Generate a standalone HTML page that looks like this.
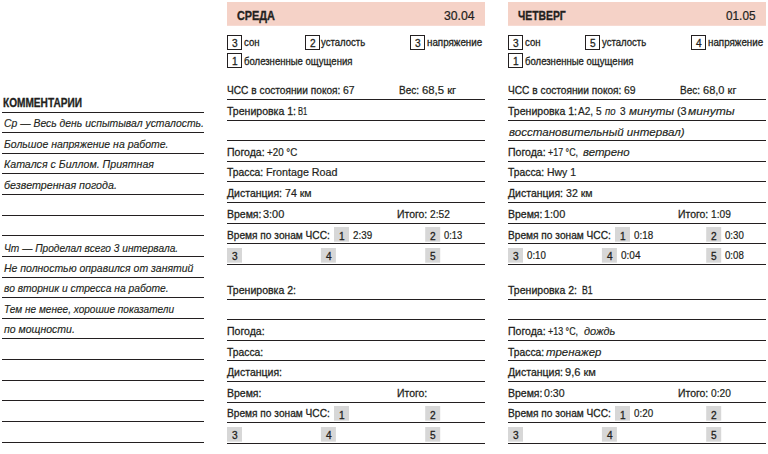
<!DOCTYPE html>
<html lang="ru"><head><meta charset="utf-8"><title>Дневник тренировок</title>
<style>
html,body{margin:0;padding:0;background:#fff}
#p{position:relative;width:768px;height:454px;overflow:hidden;background:#fff;color:#231f20;font-family:'Liberation Sans', sans-serif}
#p span{position:absolute;white-space:pre;transform-origin:0 0;line-height:16px}
.lab,.cb{-webkit-text-stroke:0.3px currentColor}
.val,.dt{-webkit-text-stroke:0.22px currentColor}
.num,.numc{-webkit-text-stroke:0.3px currentColor}
.ita{-webkit-text-stroke:0.15px currentColor}
.hd{-webkit-text-stroke:0.35px currentColor}
.kom{-webkit-text-stroke:0.3px currentColor}
.lab{font-size:11.6px;font-weight:400;font-style:normal}
.val{font-size:11.6px;font-weight:400;font-style:normal}
.ita{font-size:11.8px;font-weight:400;font-style:italic}
.hd{font-size:13.5px;font-weight:700;font-style:normal}
.dt{font-size:12.4px;font-weight:400;font-style:normal}
.kom{font-size:12.0px;font-weight:700;font-style:normal}
.cb{font-size:10.6px;font-weight:400;font-style:normal}
.num{font-size:11.0px;font-weight:400;font-style:normal}
.numc{font-size:11.0px;font-weight:400;font-style:normal}
</style></head><body>
<div id="p">
<svg width="768" height="454" viewBox="0 0 768 454" style="position:absolute;left:0;top:0">
<rect x="227.0" y="2.0" width="258.0" height="23.8" fill="#f5d2c7"/>
<rect x="334.0" y="227.0" width="15.0" height="14.7" fill="#d7d7d7"/>
<rect x="425.2" y="227.0" width="15.0" height="14.7" fill="#d7d7d7"/>
<rect x="227.0" y="248.0" width="15.0" height="14.7" fill="#d7d7d7"/>
<rect x="320.9" y="248.0" width="15.0" height="14.7" fill="#d7d7d7"/>
<rect x="425.2" y="248.0" width="15.0" height="14.7" fill="#d7d7d7"/>
<rect x="334.0" y="406.0" width="15.0" height="14.7" fill="#d7d7d7"/>
<rect x="425.2" y="406.0" width="15.0" height="14.7" fill="#d7d7d7"/>
<rect x="227.0" y="427.0" width="15.0" height="14.7" fill="#d7d7d7"/>
<rect x="320.9" y="427.0" width="15.0" height="14.7" fill="#d7d7d7"/>
<rect x="425.2" y="427.0" width="15.0" height="14.7" fill="#d7d7d7"/>
<rect x="508.0" y="2.0" width="258.0" height="23.8" fill="#f5d2c7"/>
<rect x="615.0" y="227.0" width="15.0" height="14.7" fill="#d7d7d7"/>
<rect x="706.2" y="227.0" width="15.0" height="14.7" fill="#d7d7d7"/>
<rect x="508.0" y="248.0" width="15.0" height="14.7" fill="#d7d7d7"/>
<rect x="601.9" y="248.0" width="15.0" height="14.7" fill="#d7d7d7"/>
<rect x="706.2" y="248.0" width="15.0" height="14.7" fill="#d7d7d7"/>
<rect x="615.0" y="406.0" width="15.0" height="14.7" fill="#d7d7d7"/>
<rect x="706.2" y="406.0" width="15.0" height="14.7" fill="#d7d7d7"/>
<rect x="508.0" y="427.0" width="15.0" height="14.7" fill="#d7d7d7"/>
<rect x="601.9" y="427.0" width="15.0" height="14.7" fill="#d7d7d7"/>
<rect x="706.2" y="427.0" width="15.0" height="14.7" fill="#d7d7d7"/>
<rect x="227.5" y="35.5" width="14.0" height="14.0" fill="none" stroke="#231f20" stroke-width="1"/>
<rect x="305.5" y="35.5" width="14.0" height="14.0" fill="none" stroke="#231f20" stroke-width="1"/>
<rect x="410.5" y="35.5" width="14.0" height="14.0" fill="none" stroke="#231f20" stroke-width="1"/>
<rect x="227.5" y="53.5" width="14.0" height="14.0" fill="none" stroke="#231f20" stroke-width="1"/>
<rect x="508.5" y="35.5" width="14.0" height="14.0" fill="none" stroke="#231f20" stroke-width="1"/>
<rect x="585.5" y="35.5" width="14.0" height="14.0" fill="none" stroke="#231f20" stroke-width="1"/>
<rect x="691.5" y="35.5" width="14.0" height="14.0" fill="none" stroke="#231f20" stroke-width="1"/>
<rect x="508.5" y="53.5" width="14.0" height="14.0" fill="none" stroke="#231f20" stroke-width="1"/>
<path d="M2.0 112.50H204.0M2.0 132.50H204.0M2.0 153.50H204.0M2.0 173.50H204.0M2.0 194.50H204.0M2.0 215.50H204.0M2.0 235.50H204.0M2.0 256.50H204.0M2.0 277.50H204.0M2.0 297.50H204.0M2.0 318.50H204.0M2.0 338.50H204.0M2.0 359.50H204.0M2.0 380.50H204.0M2.0 400.50H204.0M2.0 421.50H204.0M2.0 442.50H204.0M227.0 99.50H485.0M227.0 120.50H485.0M227.0 140.50H485.0M227.0 161.50H485.0M227.0 181.50H485.0M227.0 202.50H485.0M227.0 223.50H485.0M227.0 243.50H485.0M227.0 264.50H485.0M227.0 299.50H485.0M227.0 319.50H485.0M227.0 340.50H485.0M227.0 360.50H485.0M227.0 381.50H485.0M227.0 402.50H485.0M227.0 422.50H485.0M227.0 443.50H485.0M508.0 99.50H766.0M508.0 120.50H766.0M508.0 140.50H766.0M508.0 161.50H766.0M508.0 181.50H766.0M508.0 202.50H766.0M508.0 223.50H766.0M508.0 243.50H766.0M508.0 264.50H766.0M508.0 299.50H766.0M508.0 319.50H766.0M508.0 340.50H766.0M508.0 360.50H766.0M508.0 381.50H766.0M508.0 402.50H766.0M508.0 422.50H766.0M508.0 443.50H766.0" fill="none" stroke="#231f20" stroke-width="1.15"/>
</svg>
<span class="kom" style="left:3.2px;top:95px;transform:scaleX(0.842)">КОММЕНТАРИИ</span>
<span class="ita" style="left:3.6px;top:115px;transform:scaleX(0.881)">Ср — Весь день испытывал усталость.</span>
<span class="ita" style="left:3.6px;top:136px;transform:scaleX(0.889)">Большое напряжение на работе.</span>
<span class="ita" style="left:3.6px;top:156px;transform:scaleX(0.899)">Катался с Биллом. Приятная</span>
<span class="ita" style="left:3.6px;top:177px;transform:scaleX(0.907)">безветренная погода.</span>
<span class="ita" style="left:3.6px;top:240px;transform:scaleX(0.862)">Чт — Проделал всего 3 интервала.</span>
<span class="ita" style="left:3.6px;top:260px;transform:scaleX(0.888)">Не полностью оправился от занятий</span>
<span class="ita" style="left:3.6px;top:280px;transform:scaleX(0.872)">во вторник и стресса на работе.</span>
<span class="ita" style="left:3.6px;top:301px;transform:scaleX(0.853)">Тем не менее, хорошие показатели</span>
<span class="ita" style="left:3.6px;top:321px;transform:scaleX(0.890)">по мощности.</span>
<span class="hd" style="left:237.3px;top:8px;transform:scaleX(0.806)">СРЕДА</span>
<span class="dt" style="left:443.9px;top:8px;transform:scaleX(0.987)">30.04</span>
<span class="numc" style="left:231.6px;top:35px;transform:scaleX(0.920)">3</span>
<span class="cb" style="left:244.1px;top:34px;transform:scaleX(0.903)">сон</span>
<span class="numc" style="left:309.6px;top:35px;transform:scaleX(0.920)">2</span>
<span class="cb" style="left:320.8px;top:34px;transform:scaleX(0.901)">усталость</span>
<span class="numc" style="left:414.6px;top:35px;transform:scaleX(0.920)">3</span>
<span class="cb" style="left:427.3px;top:34px;transform:scaleX(0.926)">напряжение</span>
<span class="numc" style="left:231.6px;top:53px;transform:scaleX(0.920)">1</span>
<span class="cb" style="left:244.1px;top:53px;transform:scaleX(0.901)">болезненные ощущения</span>
<span class="lab" style="left:226.7px;top:82px;transform:scaleX(0.875)">ЧСС в состоянии покоя:</span>
<span class="val" style="left:343.0px;top:82px;transform:scaleX(0.899)">67</span>
<span class="lab" style="left:398.9px;top:82px;transform:scaleX(0.862)">Вес:</span>
<span class="val" style="left:421.5px;top:82px;transform:scaleX(0.975)">68,5 кг</span>
<span class="lab" style="left:226.7px;top:103px;transform:scaleX(0.909)">Тренировка 1:</span>
<span class="val" style="left:298.0px;top:103px;transform:scaleX(0.656)">B1</span>
<span class="lab" style="left:226.7px;top:144px;transform:scaleX(0.908)">Погода:</span>
<span class="val" style="left:266.5px;top:144px;transform:scaleX(0.844)">+20 °C</span>
<span class="lab" style="left:226.7px;top:164px;transform:scaleX(0.892)">Трасса:</span>
<span class="val" style="left:266.0px;top:164px;transform:scaleX(0.924)">Frontage Road</span>
<span class="lab" style="left:226.7px;top:185px;transform:scaleX(0.905)">Дистанция:</span>
<span class="val" style="left:284.5px;top:185px;transform:scaleX(0.912)">74 км</span>
<span class="lab" style="left:226.7px;top:206px;transform:scaleX(0.903)">Время:</span>
<span class="val" style="left:263.4px;top:206px;transform:scaleX(0.943)">3:00</span>
<span class="lab" style="left:396.8px;top:206px;transform:scaleX(0.899)">Итого:</span>
<span class="val" style="left:430.0px;top:206px;transform:scaleX(0.877)">2:52</span>
<span class="lab" style="left:226.7px;top:227px;transform:scaleX(0.876)">Время по зонам ЧСС:</span>
<span class="lab" style="left:226.7px;top:282px;transform:scaleX(0.909)">Тренировка 2:</span>
<span class="lab" style="left:226.7px;top:323px;transform:scaleX(0.908)">Погода:</span>
<span class="lab" style="left:226.7px;top:344px;transform:scaleX(0.892)">Трасса:</span>
<span class="lab" style="left:226.7px;top:364px;transform:scaleX(0.905)">Дистанция:</span>
<span class="lab" style="left:226.7px;top:385px;transform:scaleX(0.903)">Время:</span>
<span class="lab" style="left:396.8px;top:385px;transform:scaleX(0.899)">Итого:</span>
<span class="lab" style="left:226.7px;top:405px;transform:scaleX(0.876)">Время по зонам ЧСС:</span>
<span class="numc" style="left:338.7px;top:228px;transform:scaleX(0.920)">1</span>
<span class="val" style="left:353.0px;top:227px;transform:scaleX(0.846)">2:39</span>
<span class="numc" style="left:429.9px;top:228px;transform:scaleX(0.920)">2</span>
<span class="val" style="left:444.0px;top:227px;transform:scaleX(0.811)">0:13</span>
<span class="numc" style="left:231.7px;top:248px;transform:scaleX(0.920)">3</span>
<span class="numc" style="left:325.6px;top:248px;transform:scaleX(0.920)">4</span>
<span class="numc" style="left:429.9px;top:248px;transform:scaleX(0.920)">5</span>
<span class="numc" style="left:338.7px;top:407px;transform:scaleX(0.920)">1</span>
<span class="numc" style="left:429.9px;top:407px;transform:scaleX(0.920)">2</span>
<span class="numc" style="left:231.7px;top:427px;transform:scaleX(0.920)">3</span>
<span class="numc" style="left:325.6px;top:427px;transform:scaleX(0.920)">4</span>
<span class="numc" style="left:429.9px;top:427px;transform:scaleX(0.920)">5</span>
<span class="hd" style="left:518.3px;top:8px;transform:scaleX(0.767)">ЧЕТВЕРГ</span>
<span class="dt" style="left:725.5px;top:8px;transform:scaleX(0.951)">01.05</span>
<span class="numc" style="left:512.6px;top:35px;transform:scaleX(0.920)">3</span>
<span class="cb" style="left:525.1px;top:34px;transform:scaleX(0.903)">сон</span>
<span class="numc" style="left:589.6px;top:35px;transform:scaleX(0.920)">5</span>
<span class="cb" style="left:601.8px;top:34px;transform:scaleX(0.901)">усталость</span>
<span class="numc" style="left:695.6px;top:35px;transform:scaleX(0.920)">4</span>
<span class="cb" style="left:708.3px;top:34px;transform:scaleX(0.926)">напряжение</span>
<span class="numc" style="left:512.6px;top:53px;transform:scaleX(0.920)">1</span>
<span class="cb" style="left:525.1px;top:53px;transform:scaleX(0.901)">болезненные ощущения</span>
<span class="lab" style="left:507.7px;top:82px;transform:scaleX(0.875)">ЧСС в состоянии покоя:</span>
<span class="val" style="left:624.0px;top:82px;transform:scaleX(0.899)">69</span>
<span class="lab" style="left:679.9px;top:82px;transform:scaleX(0.862)">Вес:</span>
<span class="val" style="left:702.5px;top:82px;transform:scaleX(0.952)">68,0 кг</span>
<span class="lab" style="left:507.7px;top:103px;transform:scaleX(0.909)">Тренировка 1:</span>
<span class="val" style="left:577.9px;top:103px;transform:scaleX(0.868)">A2, 5</span>
<span class="ita" style="left:605.2px;top:103px;transform:scaleX(0.811)">по</span>
<span class="val" style="left:619.5px;top:103px;transform:scaleX(0.868)">3</span>
<span class="ita" style="left:629.3px;top:103px;transform:scaleX(0.990)">минуты</span>
<span class="val" style="left:677.2px;top:103px;transform:scaleX(0.931)">(3</span>
<span class="ita" style="left:688.0px;top:103px;transform:scaleX(1.023)">минуты</span>
<span class="lab" style="left:507.7px;top:144px;transform:scaleX(0.908)">Погода:</span>
<span class="val" style="left:548.2px;top:144px;transform:scaleX(0.769)">+17 °C,</span>
<span class="ita" style="left:583.3px;top:144px;transform:scaleX(0.969)">ветрено</span>
<span class="lab" style="left:507.7px;top:164px;transform:scaleX(0.892)">Трасса:</span>
<span class="val" style="left:547.0px;top:164px;transform:scaleX(0.900)">Hwy 1</span>
<span class="lab" style="left:507.7px;top:185px;transform:scaleX(0.905)">Дистанция:</span>
<span class="val" style="left:565.5px;top:185px;transform:scaleX(0.912)">32 км</span>
<span class="lab" style="left:507.7px;top:206px;transform:scaleX(0.903)">Время:</span>
<span class="val" style="left:544.4px;top:206px;transform:scaleX(0.943)">1:00</span>
<span class="lab" style="left:677.8px;top:206px;transform:scaleX(0.899)">Итого:</span>
<span class="val" style="left:711.0px;top:206px;transform:scaleX(0.877)">1:09</span>
<span class="lab" style="left:507.7px;top:227px;transform:scaleX(0.876)">Время по зонам ЧСС:</span>
<span class="lab" style="left:507.7px;top:282px;transform:scaleX(0.909)">Тренировка 2:</span>
<span class="lab" style="left:582.0px;top:282px;transform:scaleX(0.747)">B1</span>
<span class="lab" style="left:507.7px;top:323px;transform:scaleX(0.908)">Погода:</span>
<span class="val" style="left:548.2px;top:323px;transform:scaleX(0.769)">+13 °C,</span>
<span class="ita" style="left:583.8px;top:323px;transform:scaleX(0.933)">дождь</span>
<span class="lab" style="left:507.7px;top:344px;transform:scaleX(0.892)">Трасса:</span>
<span class="ita" style="left:546.2px;top:344px;transform:scaleX(0.970)">тренажер</span>
<span class="lab" style="left:507.7px;top:364px;transform:scaleX(0.905)">Дистанция:</span>
<span class="val" style="left:565.0px;top:364px;transform:scaleX(0.954)">9,6 км</span>
<span class="lab" style="left:507.7px;top:385px;transform:scaleX(0.903)">Время:</span>
<span class="val" style="left:544.4px;top:385px;transform:scaleX(0.912)">0:30</span>
<span class="lab" style="left:677.8px;top:385px;transform:scaleX(0.899)">Итого:</span>
<span class="val" style="left:711.0px;top:385px;transform:scaleX(0.877)">0:20</span>
<span class="lab" style="left:507.7px;top:405px;transform:scaleX(0.876)">Время по зонам ЧСС:</span>
<span class="numc" style="left:619.7px;top:228px;transform:scaleX(0.920)">1</span>
<span class="val" style="left:634.0px;top:227px;transform:scaleX(0.846)">0:18</span>
<span class="numc" style="left:710.9px;top:228px;transform:scaleX(0.920)">2</span>
<span class="val" style="left:725.0px;top:227px;transform:scaleX(0.833)">0:30</span>
<span class="numc" style="left:512.7px;top:248px;transform:scaleX(0.920)">3</span>
<span class="val" style="left:526.8px;top:247px;transform:scaleX(0.837)">0:10</span>
<span class="numc" style="left:606.6px;top:248px;transform:scaleX(0.920)">4</span>
<span class="val" style="left:621.0px;top:247px;transform:scaleX(0.864)">0:04</span>
<span class="numc" style="left:710.9px;top:248px;transform:scaleX(0.920)">5</span>
<span class="val" style="left:725.0px;top:247px;transform:scaleX(0.833)">0:08</span>
<span class="numc" style="left:619.7px;top:407px;transform:scaleX(0.920)">1</span>
<span class="val" style="left:634.0px;top:405px;transform:scaleX(0.846)">0:20</span>
<span class="numc" style="left:710.9px;top:407px;transform:scaleX(0.920)">2</span>
<span class="numc" style="left:512.7px;top:427px;transform:scaleX(0.920)">3</span>
<span class="numc" style="left:606.6px;top:427px;transform:scaleX(0.920)">4</span>
<span class="numc" style="left:710.9px;top:427px;transform:scaleX(0.920)">5</span>
<span class="ita" style="left:508.5px;top:124px;transform:scaleX(0.981)">восстановительный интервал)</span>
</div>
</body></html>
